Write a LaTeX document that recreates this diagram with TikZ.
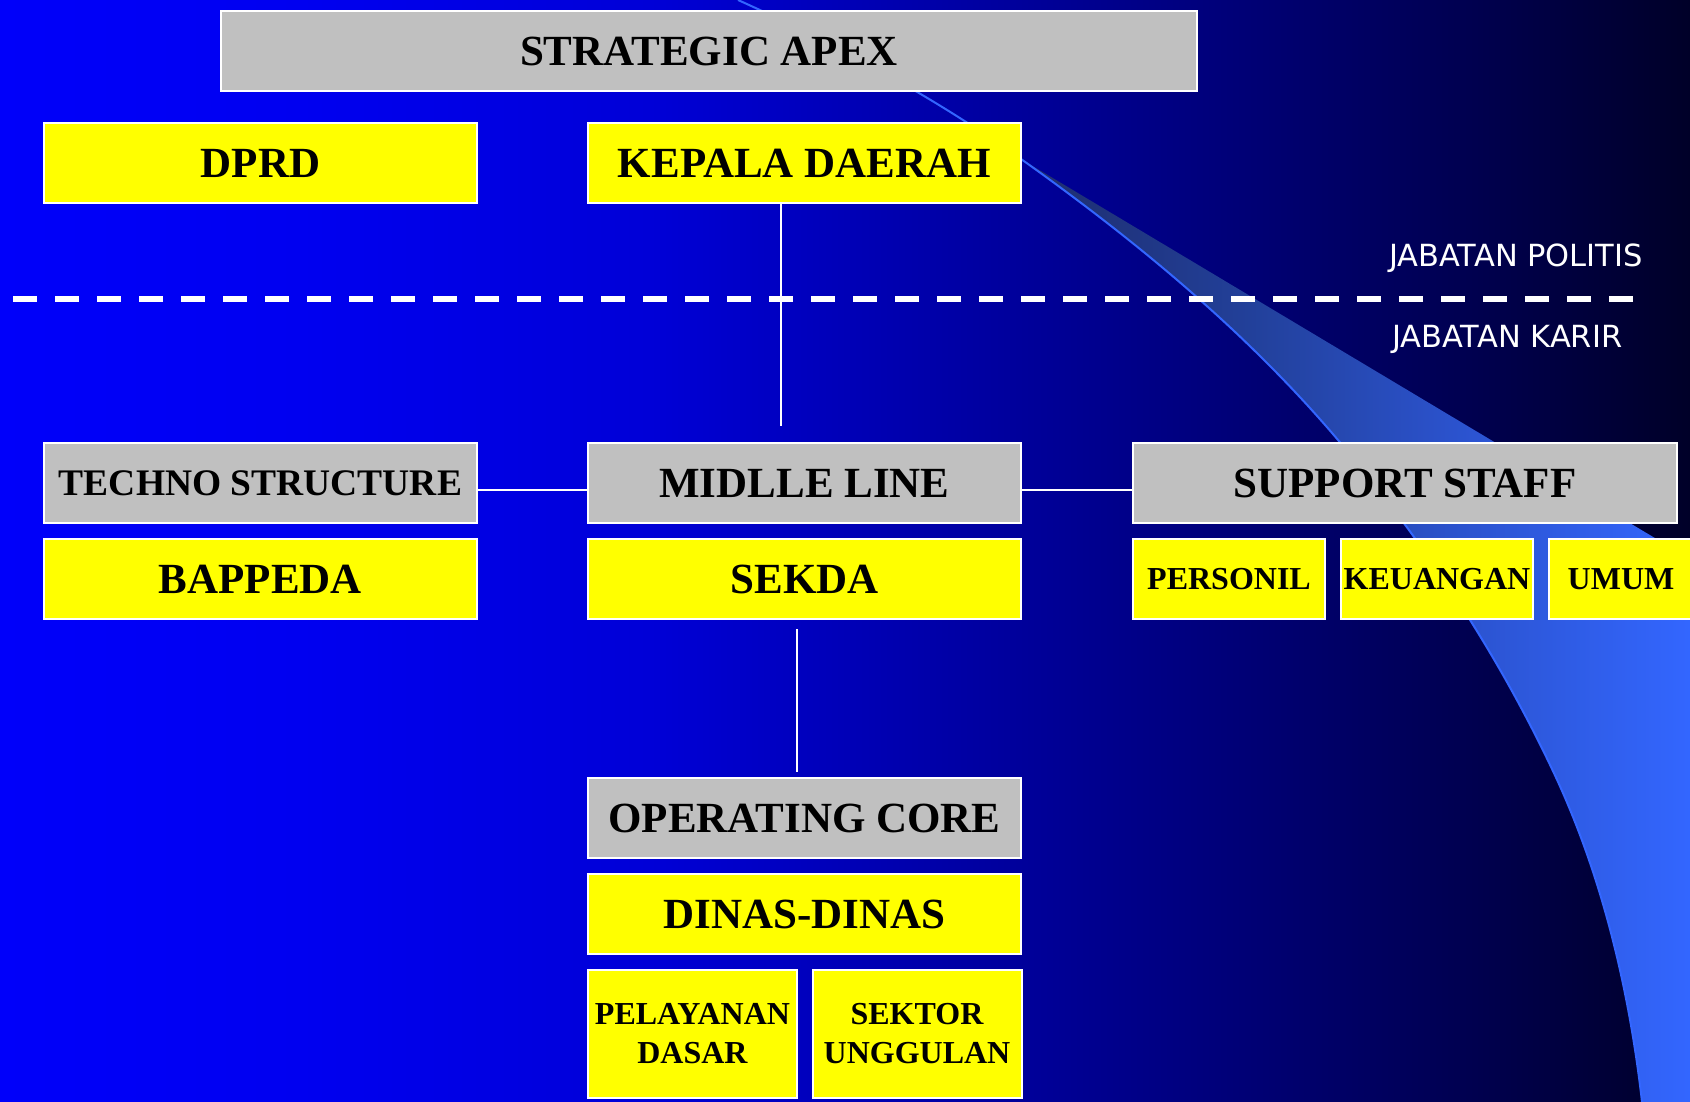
\documentclass[tikz,border=0pt]{standalone}
\usepackage{fontspec}
\setmainfont{Liberation Serif}
\newfontfamily\labelfont{DejaVu Sans}
\definecolor{bg0}{RGB}{0,0,250}
\definecolor{bg1}{RGB}{0,0,240}
\definecolor{bg2}{RGB}{0,0,215}
\definecolor{bg3}{RGB}{0,0,145}
\definecolor{bg4}{RGB}{0,0,78}
\definecolor{bg5}{RGB}{0,0,40}
\definecolor{sw0}{RGB}{30,44,108}
\definecolor{sw1}{RGB}{34,64,154}
\definecolor{sw2}{RGB}{43,82,204}
\definecolor{sw3}{RGB}{51,102,255}
\definecolor{edgeblue}{RGB}{51,102,255}
\definecolor{boxgray}{RGB}{192,192,192}
\definecolor{boxyellow}{RGB}{255,255,0}
\pgfdeclarehorizontalshading{bgshade}{100bp}{color(0bp)=(bg0); color(25bp)=(bg0); color(33.88bp)=(bg1); color(44.23bp)=(bg2); color(56.95bp)=(bg3); color(68.79bp)=(bg4); color(75bp)=(bg5); color(100bp)=(bg5)}
\pgfdeclarehorizontalshading{swshade}{100bp}{color(0bp)=(sw0); color(25bp)=(sw0); color(42.1bp)=(sw1); color(57.1bp)=(sw2); color(75bp)=(sw3); color(100bp)=(sw3)}
\begin{document}
\begin{tikzpicture}[x=1pt,y=-1pt,
  curvepath/.style={insert path={(738,0) .. controls (836.7,44.4) and (932.8,96.4) .. (1021,159)
      .. controls (1136,240.7) and (1246.8,332.3) .. (1338,440)
      .. controls (1422.5,539.8) and (1495.8,650.5) .. (1552,769)
      .. controls (1601.5,873) and (1629,988) .. (1642,1102) -- (1647,1150)}},
  box/.style={draw=white, line width=2pt, inner sep=0pt, text=black, align=center,
    font=\bfseries\fontsize{43}{46}\selectfont},
  graybox/.style={box, fill=boxgray},
  yelbox/.style={box, fill=boxyellow},
  smallfont/.style={font=\bfseries\fontsize{32}{39}\selectfont},
  conn/.style={draw=white, line width=2pt},
  sidelabel/.style={anchor=base west, inner sep=0pt, text=white,
    font=\labelfont\fontsize{30.5}{33}\selectfont}]
\useasboundingbox (0,0) rectangle (1690,1102);
% background
\shade[shading=bgshade] (0,0) rectangle (1690,1102);
% swoosh
\begin{scope}
  \clip (1021,159) -- (1700,565) -- (1700,1160) -- (1021,1160) -- cycle;
  \clip[curvepath] -- (1710,1160) -- (1710,-10) -- cycle;
  \shade[shading=swshade] (1021,0) rectangle (1690,1110);
\end{scope}
\draw[edgeblue, line width=2pt, curvepath];
% dashed separator
\draw[white, line width=6pt, dash pattern=on 24pt off 18pt] (13,299) -- (1633,299);
\node[sidelabel] (politis) at (1389,266) {JABATAN POLITIS};
\node[sidelabel] (karir) at (1392,347) {JABATAN KARIR};
% boxes
\node[graybox, minimum width=976, minimum height=80] (apex) at (709,51) {STRATEGIC APEX};
\node[yelbox, minimum width=433, minimum height=80] (dprd) at (260.5,163) {DPRD};
\node[yelbox, minimum width=433, minimum height=80] (kepala) at (804.5,163) {KEPALA DAERAH};
\node[graybox, minimum width=433, minimum height=80, font=\bfseries\fontsize{37.5}{40}\selectfont] (techno) at (260.5,483) {TECHNO STRUCTURE};
\node[graybox, minimum width=433, minimum height=80] (midlle) at (804.5,483) {MIDLLE LINE};
\node[graybox, minimum width=544, minimum height=80] (support) at (1405,483) {SUPPORT STAFF};
\node[yelbox, minimum width=433, minimum height=80] (bappeda) at (260.5,579) {BAPPEDA};
\node[yelbox, minimum width=433, minimum height=80] (sekda) at (804.5,579) {SEKDA};
\node[yelbox, smallfont, minimum width=192, minimum height=80] (personil) at (1229,579) {PERSONIL};
\node[yelbox, smallfont, minimum width=192, minimum height=80] (keuangan) at (1437,579) {KEUANGAN};
\node[yelbox, smallfont, minimum width=144, minimum height=80] (umum) at (1621,579) {UMUM};
\node[graybox, minimum width=433, minimum height=80] (operating) at (804.5,818) {OPERATING CORE};
\node[yelbox, minimum width=433, minimum height=80] (dinas) at (804.5,914) {DINAS-DINAS};
\node[yelbox, smallfont, minimum width=209, minimum height=128] (pelayanan) at (692.5,1034) {PELAYANAN\\DASAR};
\node[yelbox, smallfont, minimum width=209, minimum height=128] (sektor) at (917,1034) {SEKTOR\\UNGGULAN};
% connectors
\coordinate (kx) at (781,0);
\coordinate (sx) at (797,0);
\coordinate (hy) at (0,490);
\draw[conn, shorten >=16pt] (kepala.south -| kx) -- (midlle.north -| kx);
\draw[conn] (techno.east |- hy) -- (midlle.west |- hy);
\draw[conn] (midlle.east |- hy) -- (support.west |- hy);
\draw[conn, shorten <=9pt, shorten >=5pt] (sekda.south -| sx) -- (operating.north -| sx);
\end{tikzpicture}
\end{document}
